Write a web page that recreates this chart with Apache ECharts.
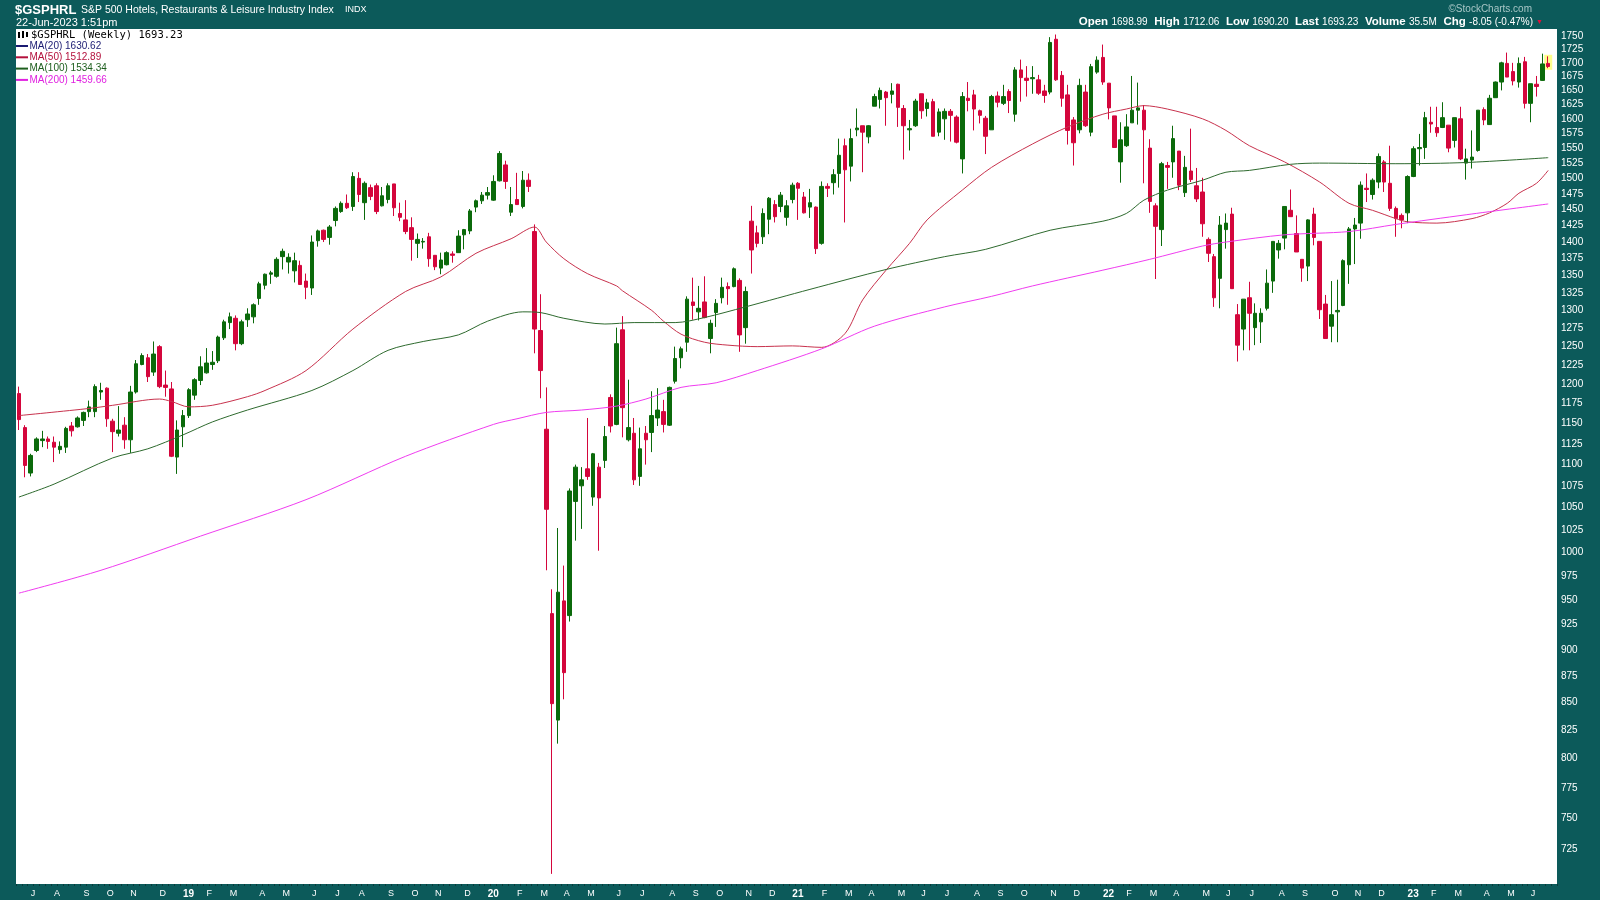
<!DOCTYPE html>
<html><head><meta charset="utf-8">
<style>html,body{margin:0;padding:0;background:#0c5a5a;}#c{width:1600px;height:900px;}</style>
<script src="https://cdn.jsdelivr.net/npm/echarts@6/dist/echarts.min.js"></script>
</head><body><div id="c"></div>
<script>
// ---- weekly OHLC (week ending Fridays, from 22-Jun-2018) ----
const open = [
1188,1145,1090,1117,1129,1131,1127,1118,1121,1147,
1146,1154,1165,1165,1190,1195,1153,1138,1148,1130,
1190,1226,1235,1216,1250,1199,1194,1109,1146,1160,
1186,1205,1215,1226,1231,1262,1283,1289,1254,1287,
1291,1317,1336,1352,1349,1378,1370,1357,1365,1342,
1332,1402,1418,1407,1433,1447,1460,1455,1500,1461,
1485,1488,1456,1466,1491,1444,1434,1422,1398,1400,
1408,1380,1361,1366,1382,1384,1411,1417,1454,1464,
1473,1465,1496,1522,1446,1466,1455,1497,1416,1272,
1143,936,834,949,934,1057,1075,1095,1062,1097,
1105,1183,1149,1273,1130,1138,1086,1138,1139,1157,
1165,1148,1204,1235,1256,1312,1298,1312,1261,1297,
1318,1334,1334,1343,1276,1432,1414,1408,1435,1458,
1455,1438,1466,1492,1470,1454,1454,1398,1487,1493,
1508,1554,1520,1581,1588,1569,1622,1634,1647,1643,
1661,1618,1581,1588,1644,1618,1630,1577,1600,1613,
1603,1532,1636,1642,1614,1601,1581,1640,1627,1648,
1608,1687,1672,1671,1669,1649,1647,1744,1677,1642,
1598,1581,1647,1577,1683,1710,1663,1605,1527,1554,
1593,1615,1615,1550,1456,1419,1521,1527,1545,1477,
1512,1488,1478,1404,1378,1346,1419,1443,1294,1274,
1318,1276,1284,1303,1342,1388,1406,1449,1413,1374,
1364,1443,1401,1309,1278,1298,1307,1366,1420,1429,
1484,1474,1494,1527,1492,1452,1441,1445,1503,1549,
1551,1594,1585,1585,1589,1563,1600,1525,1530,1546,
1616,1590,1637,1665,1699,1684,1665,1702,1627,1661,
1668,1698.99];
const high = [
1197,1148,1113,1133,1141,1134,1134,1128,1146,1152,
1159,1165,1179,1200,1202,1196,1156,1172,1158,1198,
1232,1241,1240,1257,1252,1218,1203,1154,1167,1195,
1208,1237,1248,1244,1265,1287,1297,1293,1287,1303,
1310,1341,1353,1357,1377,1390,1383,1384,1372,1353,
1410,1419,1419,1426,1455,1463,1474,1510,1510,1495,
1490,1492,1486,1492,1491,1461,1465,1438,1413,1406,
1414,1380,1384,1386,1386,1418,1420,1451,1466,1478,
1486,1505,1545,1529,1486,1509,1512,1508,1427,1323,
1196,961,1027,986,1072,1100,1097,1157,1114,1102,
1147,1187,1276,1292,1206,1157,1145,1147,1191,1195,
1180,1197,1250,1250,1320,1347,1335,1349,1287,1316,
1347,1340,1362,1346,1334,1456,1425,1452,1470,1465,
1478,1465,1493,1494,1478,1483,1455,1495,1492,1515,
1566,1566,1583,1618,1588,1589,1644,1655,1649,1663,
1662,1624,1598,1635,1644,1635,1635,1618,1618,1617,
1606,1647,1665,1651,1616,1605,1642,1648,1660,1652,
1692,1706,1694,1694,1678,1660,1748,1753,1685,1660,
1603,1671,1660,1698,1712,1734,1663,1605,1594,1608,
1676,1664,1624,1565,1460,1527,1527,1588,1545,1537,
1583,1517,1501,1407,1382,1440,1444,1453,1309,1316,
1341,1310,1303,1359,1401,1403,1455,1482,1441,1374,
1435,1453,1401,1322,1342,1344,1374,1423,1437,1495,
1508,1500,1541,1530,1554,1455,1444,1505,1553,1574,
1612,1621,1621,1629,1589,1602,1621,1549,1580,1615,
1620,1642,1666,1702,1719,1700,1710,1711,1662,1676,
1717,1712.06];
const low = [
1142,1085,1086,1115,1121,1119,1103,1113,1114,1134,
1145,1147,1158,1158,1180,1146,1115,1134,1119,1114,
1188,1225,1203,1211,1195,1184,1109,1089,1121,1157,
1180,1199,1214,1219,1228,1259,1274,1245,1252,1277,
1282,1308,1330,1338,1347,1359,1353,1340,1337,1316,
1322,1393,1400,1396,1424,1445,1451,1448,1462,1434,
1465,1443,1455,1460,1440,1432,1412,1372,1376,1390,
1363,1358,1352,1365,1369,1384,1389,1412,1446,1459,
1466,1464,1495,1483,1440,1458,1452,1478,1241,1182,
981,706,813,853,928,1013,1026,1082,1052,1002,
1096,1139,1148,1133,1128,1076,1075,1100,1115,1147,
1139,1147,1201,1221,1243,1287,1286,1289,1241,1277,
1310,1308,1333,1243,1254,1353,1392,1397,1412,1430,
1446,1425,1460,1434,1444,1437,1382,1396,1470,1474,
1485,1430,1495,1570,1510,1558,1622,1618,1588,1627,
1586,1531,1546,1586,1600,1604,1570,1570,1564,1561,
1558,1508,1613,1580,1592,1540,1581,1620,1624,1610,
1595,1630,1639,1644,1642,1628,1643,1667,1621,1556,
1521,1575,1586,1570,1680,1660,1599,1551,1493,1552,
1593,1590,1492,1445,1345,1394,1483,1501,1481,1470,
1494,1462,1408,1370,1305,1303,1390,1331,1230,1245,
1245,1252,1255,1300,1325,1375,1389,1439,1385,1341,
1342,1395,1288,1261,1256,1256,1306,1338,1367,1405,
1462,1466,1484,1478,1448,1408,1421,1429,1502,1521,
1532,1576,1569,1584,1543,1551,1530,1498,1516,1544,
1589,1590,1637,1650,1674,1659,1655,1618,1594,1639,
1667,1690.20];
const close = [
1155,1099,1111,1131,1131,1128,1121,1122,1144,1141,
1157,1164,1171,1197,1192,1156,1140,1142,1130,1190,
1227,1238,1210,1240,1197,1196,1110,1142,1160,1193,
1206,1223,1228,1229,1263,1284,1291,1254,1284,1295,
1308,1338,1352,1354,1374,1386,1377,1372,1337,1333,
1400,1417,1404,1423,1452,1460,1453,1503,1474,1492,
1471,1447,1472,1488,1453,1438,1416,1404,1404,1401,
1375,1363,1373,1384,1380,1409,1419,1448,1464,1473,
1477,1495,1541,1495,1458,1458,1497,1487,1274,1218,
1048,849,958,878,1069,1097,1082,1086,1113,1061,
1134,1147,1254,1170,1145,1082,1119,1130,1160,1167,
1149,1196,1234,1247,1316,1307,1303,1290,1282,1310,
1333,1331,1360,1266,1327,1388,1398,1444,1468,1439,
1473,1456,1489,1484,1445,1461,1390,1487,1484,1506,
1538,1514,1566,1584,1577,1588,1639,1650,1637,1649,
1620,1588,1583,1631,1614,1628,1570,1612,1613,1606,
1560,1639,1632,1617,1606,1570,1639,1629,1639,1632,
1687,1673,1668,1673,1645,1641,1738,1669,1636,1580,
1559,1659,1588,1693,1705,1665,1619,1551,1564,1586,
1615,1619,1581,1463,1424,1524,1518,1566,1489,1518,
1498,1467,1428,1383,1318,1426,1429,1331,1252,1316,
1296,1296,1296,1339,1401,1398,1455,1439,1385,1361,
1434,1407,1301,1261,1294,1300,1372,1420,1426,1489,
1482,1497,1536,1494,1452,1436,1434,1503,1549,1551,
1602,1591,1576,1602,1550,1602,1532,1532,1535,1615,
1598,1636,1665,1700,1674,1667,1699,1627,1662,1657,
1698,1693.23];

// ---- moving averages (week index, value) ----
const ma50Idx = [0,12,16,24,26,29,33,39,42,49,57,66,72,78,84,88,90,93,97,102,103,108,110,113,117,121,126,132,137,141,144,148,152,155,161,166,173,179,185,189,192,196,202,206,210,216,222,227,231,235,237,242,248,251,254,256,259,261];
const ma50Val = [1160,1169,1173,1181,1178,1171,1173,1184,1192,1218,1274,1327,1348,1383,1405,1423,1400,1375,1353,1335,1328,1300,1285,1267,1256,1252,1250,1251,1249,1268,1315,1358,1398,1434,1481,1518,1557,1586,1608,1617,1623,1617,1600,1580,1554,1527,1494,1460,1449,1436,1431,1429,1436,1445,1460,1476,1492,1513];
const ma100Idx = [0,6,16,22,28,33,39,50,57,63,69,75,80,86,89,93,100,105,112,117,124,135,148,158,165,176,185,189,192,196,202,206,210,217,222,235,247,261];
const ma100Val = [1062,1077,1108,1119,1136,1152,1167,1192,1218,1245,1257,1266,1285,1298,1297,1289,1281,1283,1283,1290,1305,1330,1359,1378,1389,1418,1432,1444,1465,1481,1497,1510,1513,1523,1525,1524,1526,1534];
const ma200Idx = [0,14,31,49,66,81,85,90,96,102,107,113,119,126,137,146,158,166,173,185,193,202,206,216,227,235,247,261];
const ma200Val = [957,981,1018,1059,1110,1149,1156,1164,1167,1172,1181,1196,1202,1218,1247,1278,1305,1320,1335,1358,1374,1394,1400,1411,1416,1427,1442,1459];

const yTickLabels = [725,750,775,800,825,850,875,900,925,950,975,1000,1025,1050,1075,1100,1125,1150,1175,1200,1225,1250,1275,1300,1325,1350,1375,1400,1425,1450,1475,1500,1525,1550,1575,1600,1625,1650,1675,1700,1725,1750];
const monthLetters = ['J','F','M','A','M','J','J','A','S','O','N','D'];
const legendRows = [
  {text:'MA(20) 1630.62', color:'#1b1b72'},
  {text:'MA(50) 1512.89', color:'#b3103c'},
  {text:'MA(100) 1534.34', color:'#1d5e1d'},
  {text:'MA(200) 1459.66', color:'#e01fe0'}
];

const N = open.length;
const startMs = Date.UTC(2018, 5, 22);
const weeks = [];
for (let i = 0; i < N; i++) weeks.push(new Date(startMs + i * 7 * 86400000).toISOString().slice(0, 10));
const categories = weeks.concat(['']);

function isMonthStart(i) {
  if (i <= 0 || i >= N) return false;
  return weeks[i].slice(5, 7) !== weeks[i - 1].slice(5, 7);
}

const UP = '#0b6a0b', DOWN = '#d4063c';
const candleData = weeks.map((d, i) => [open[i], close[i], low[i], high[i]]);
const pairs = (ix, vs) => ix.map((x, k) => [x, vs[k]]);

const FONT = '"Liberation Sans", Arial, sans-serif';
const fmt = v => v.toFixed(2);
const ohlcText = '{b|Open} {v|' + fmt(open[N-1]) + '}  {b|High} {v|' + fmt(high[N-1]) + '}  {b|Low} {v|' + fmt(low[N-1]) +
  '}  {b|Last} {v|' + fmt(close[N-1]) + '}  {b|Volume} {v|35.5M}  {b|Chg} {v|-8.05 (-0.47%)}';

const graphics = [
  {type:'text', x:15, y:10, z:100, style:{text:'$GSPHRL', font:'bold 13px ' + FONT, fill:'#fff', verticalAlign:'middle'}},
  {type:'text', x:81, y:10, z:100, style:{text:'S&P 500 Hotels, Restaurants & Leisure Industry Index', font:'10.5px ' + FONT, fill:'#fff', verticalAlign:'middle'}},
  {type:'text', x:345, y:10, z:100, style:{text:'INDX', font:'9px ' + FONT, fill:'#fff', verticalAlign:'middle'}},
  {type:'text', x:16, y:23, z:100, style:{text:'22-Jun-2023 1:51pm', font:'11px ' + FONT, fill:'#fff', verticalAlign:'middle'}},
  {type:'text', x:1532, y:9, z:100, style:{text:'\u00A9StockCharts.com', font:'10px ' + FONT, fill:'#a8c6c6', align:'right', verticalAlign:'middle'}},
  {type:'text', x:1533, y:22, z:100, style:{text:ohlcText, align:'right', verticalAlign:'middle',
     rich:{b:{fontSize:11.5, fontWeight:'bold', fontFamily:FONT, fill:'#fff'}, v:{fontSize:10, fontFamily:FONT, fill:'#fff'}}}},
  {type:'text', x:1536, y:22, z:100, style:{text:'\u25BC', font:'7px ' + FONT, fill:'#e0103c', verticalAlign:'middle'}},
  // legend icon
  {type:'rect', z:100, shape:{x:18, y:32, width:2, height:6}, style:{fill:'#000'}},
  {type:'rect', z:100, shape:{x:22, y:31, width:2, height:7}, style:{fill:'#000'}},
  {type:'rect', z:100, shape:{x:26, y:32, width:2, height:5}, style:{fill:'#000'}},
  {type:'text', x:31, y:35, z:100, style:{text:'$GSPHRL (Weekly) ' + close[N-1].toFixed(2), font:'10.5px "DejaVu Sans Mono", monospace', fill:'#000', verticalAlign:'middle'}}
];
legendRows.forEach((r, k) => {
  const y = 46 + k * 11.3;
  graphics.push({type:'line', z:100, shape:{x1:16, y1:y, x2:28, y2:y}, style:{stroke:r.color, lineWidth:2}});
  graphics.push({type:'text', x:29.5, y:y, z:100, style:{text:r.text, font:'10px ' + FONT, fill:r.color, verticalAlign:'middle'}});
});

const chart = echarts.init(document.getElementById('c'), null, {renderer:'canvas'});
chart.setOption({
  animation: false,
  backgroundColor: '#0c5a5a',
  grid: {left:16, right:43, top:29, bottom:16, show:true, backgroundColor:'#ffffff', borderWidth:0},
  xAxis: {
    type:'category', data:categories, boundaryGap:true,
    axisLine:{show:false},
    axisTick:{show:true, interval:0, length:2, lineStyle:{color:'#0a3a3a'}},
    splitLine:{show:false},
    axisLabel:{
      interval:(i) => isMonthStart(i),
      formatter:(v) => {
        if (!v) return '';
        const m = parseInt(v.slice(5, 7), 10);
        return m === 1 ? '{y|' + v.slice(2, 4) + '}' : monthLetters[m - 1];
      },
      color:'#ffffff', fontSize:9, fontFamily:FONT, margin:5, align:'left',
      rich:{y:{fontWeight:'bold', fontSize:10, color:'#ffffff', fontFamily:FONT}}
    }
  },
  yAxis: {
    type:'log', logBase:10, position:'right', min:698.3, max:1763.5,
    axisLine:{show:false}, axisTick:{show:false}, splitLine:{show:false}, minorTick:{show:false},
    axisLabel:{customValues:yTickLabels, formatter:(v) => String(Math.round(v)), color:'#ffffff', fontSize:10, fontFamily:FONT, margin:4, align:'left'}
  },
  series: [
    {type:'scatter', data:[[N - 1, 1701]], symbol:'rect', symbolSize:[8, 15], itemStyle:{color:'#ffff70'}, z:1, silent:true},
    {type:'candlestick', data:candleData, barWidth:4, z:2,
     itemStyle:{color:UP, color0:DOWN, borderColor:UP, borderColor0:DOWN, borderColorDoji:UP, borderWidth:1}},
    {type:'line', data:pairs(ma50Idx, ma50Val), smooth:0.3, showSymbol:false, silent:true, z:3, lineStyle:{color:'#c8324d', width:1}},
    {type:'line', data:pairs(ma100Idx, ma100Val), smooth:0.3, showSymbol:false, silent:true, z:3, lineStyle:{color:'#2e6a2e', width:1}},
    {type:'line', data:pairs(ma200Idx, ma200Val), smooth:0.3, showSymbol:false, silent:true, z:3, lineStyle:{color:'#f03cf0', width:1}}
  ],
  graphic: {elements: graphics}
});
</script>
</body></html>
